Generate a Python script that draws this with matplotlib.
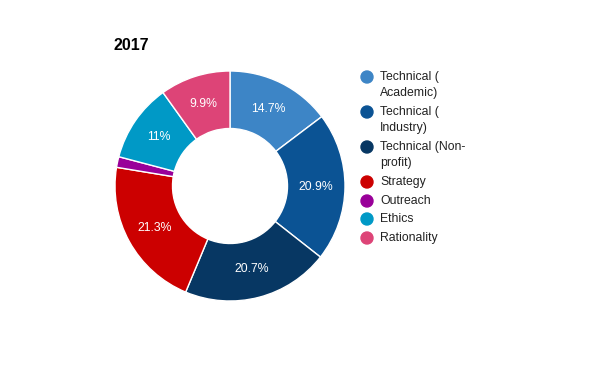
import matplotlib
matplotlib.use('Agg')
import matplotlib.pyplot as plt
from matplotlib.patches import Ellipse

plt.rcParams['font.family'] = ['Liberation Sans', 'DejaVu Sans']

labels = ['Technical (\nAcademic)', 'Technical (\nIndustry)', 'Technical (Non-\nprofit)',
          'Strategy', 'Outreach', 'Ethics', 'Rationality']
values = [14.7, 20.9, 20.7, 21.3, 1.5, 11.0, 9.9]
colors = ['#3d85c6', '#0b5394', '#073763', '#cc0000', '#990099', '#0099c6', '#dd4477']

fig = plt.figure(figsize=(6, 3.71), dpi=100)
W, H = 600, 371
cx, cy, r = 230, 186, 115
ax = fig.add_axes([(cx - r) / W, (H - cy - r) / H, 2 * r / W, 2 * r / H])


def fmt(p):
    return '' if p < 5 else '{:g}%'.format(round(p, 1))


wedges, texts, autotexts = ax.pie(values, colors=colors, startangle=90, counterclock=False,
                                  radius=1.0, autopct=fmt, pctdistance=0.75,
                                  wedgeprops=dict(width=0.5, edgecolor='white', linewidth=1),
                                  textprops=dict(color='white', fontsize=8.8))
ax.set_xlim(-1, 1)
ax.set_ylim(-1, 1)
ax.set_aspect('equal')

fig.text(113 / W, 1 - 45 / H, '2017', fontsize=11.5, fontweight='bold', va='center', ha='left')

# legend
ys = [77, 112, 147, 182, 201, 219, 238]
for lab, col, y in zip(labels, colors, ys):
    fig.add_artist(Ellipse((367 / W, 1 - y / H), 12 / W, 12 / H,
                           transform=fig.transFigure, color=col))
    fig.text(380 / W, 1 - (y - 6) / H, lab, fontsize=8.8, color='#222222',
             va='top', ha='left', linespacing=1.4)

fig.savefig('out.png', dpi=100)
